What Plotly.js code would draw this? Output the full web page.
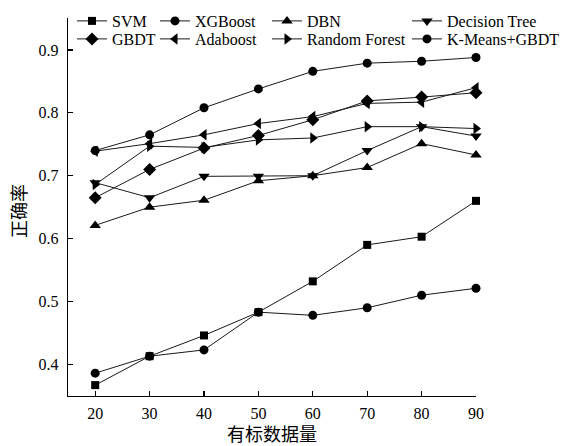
<!DOCTYPE html>
<html>
<head>
<meta charset="utf-8">
<script src="https://cdn.plot.ly/plotly-3.0.1.min.js"></script>
<style>html,body{margin:0;padding:0;background:#fff;}#chart{width:565px;height:446px;}</style>
</head>
<body>
<div id="chart"></div>
<script>
// Data
var xValues = [20, 30, 40, 50, 60, 70, 80, 90];
var seriesNames = ['SVM', 'XGBoost', 'DBN', 'Decision Tree', 'GBDT', 'Adaboost', 'Random Forest', 'K-Means+GBDT'];
var svm = [0.367, 0.413, 0.446, 0.483, 0.532, 0.590, 0.603, 0.660];
var xgboost = [0.386, 0.413, 0.423, 0.483, 0.478, 0.490, 0.510, 0.521];
var dbn = [0.621, 0.650, 0.661, 0.692, 0.700, 0.713, 0.751, 0.733];
var decisionTree = [0.689, 0.665, 0.699, 0.699, 0.700, 0.740, 0.778, 0.763];
var gbdt = [0.665, 0.710, 0.744, 0.764, 0.789, 0.819, 0.825, 0.832];
var adaboost = [0.739, 0.751, 0.765, 0.783, 0.794, 0.815, 0.817, 0.840];
var randomForest = [0.686, 0.747, 0.745, 0.757, 0.760, 0.778, 0.778, 0.775];
var kmeansGbdt = [0.740, 0.765, 0.808, 0.838, 0.866, 0.879, 0.882, 0.888];
var yTickVals = [0.4, 0.5, 0.6, 0.7, 0.8, 0.9];
var yTickText = ['0.4', '0.5', '0.6', '0.7', '0.8', '0.9'];
var xTitle = '有标数据量';
var yTitle = '正确率';

var allSeries = [svm, xgboost, dbn, decisionTree, gbdt, adaboost, randomForest, kmeansGbdt];
var symbols = ['square', 'circle', 'triangle-up', 'triangle-down', 'diamond', 'triangle-left', 'triangle-right', 'circle'];
var sizes = [8, 9, 10, 10, 10, 10, 10, 9];
// legend placement (pixels in container): text start x, row center y
var legTextX = [112, 195, 307, 447, 112, 195, 307, 447];
var legY = [21, 21, 21, 21, 39, 39, 39, 39];
var W = 565, H = 446;
var FONT = '"Liberation Serif", "Times New Roman", "Noto Sans CJK SC", serif';
var CJK = '"Noto Sans CJK SC", sans-serif';

var traces = [];
var layout = {
  width: W, height: H,
  margin: {l: 68, r: 89, t: 18, b: 50, pad: 0, autoexpand: false},
  paper_bgcolor: '#fff', plot_bgcolor: '#fff',
  font: {family: FONT, size: 16, color: '#000'},
  showlegend: true,
  xaxis: {
    range: [15, 90], tickvals: xValues, ticks: 'inside', ticklen: 5, tickwidth: 1.2, tickcolor: '#000',
    showline: true, linecolor: '#000', linewidth: 1.3, showgrid: false, zeroline: false, mirror: false,
    ticklabelstandoff: 2, automargin: false,
    tickfont: {family: FONT, size: 16, color: '#000'},
    title: {text: xTitle, font: {family: CJK, size: 18, color: '#000'}, standoff: 3}
  },
  yaxis: {
    range: [0.3497, 0.9508], tickvals: yTickVals, ticktext: yTickText,
    ticks: 'inside', ticklen: 5, tickwidth: 1.2, tickcolor: '#000',
    showline: true, linecolor: '#000', linewidth: 1.3, showgrid: false, zeroline: false, mirror: false,
    ticklabelstandoff: 5, automargin: false,
    tickfont: {family: FONT, size: 16, color: '#000'}
  },
  annotations: [{
    text: yTitle, xref: 'paper', yref: 'paper', x: (18 - 68) / 408, y: (396 - 211) / 378,
    xanchor: 'center', yanchor: 'middle', textangle: -90, showarrow: false,
    font: {family: CJK, size: 18, color: '#000'}
  }]
};

for (var i = 0; i < allSeries.length; i++) {
  var legName = i === 0 ? 'legend' : 'legend' + (i + 1);
  traces.push({
    x: xValues, y: allSeries[i], name: seriesNames[i], type: 'scatter', mode: 'lines+markers',
    cliponaxis: false,
    line: {color: '#1a1a1a', width: 1},
    marker: {symbol: symbols[i], size: sizes[i], color: '#000', line: {width: 0}},
    legend: legName
  });
  layout[legName] = {
    xref: 'container', yref: 'container',
    x: (legTextX[i] - 40) / W, y: 1 - legY[i] / H,
    xanchor: 'left', yanchor: 'middle',
    bgcolor: 'rgba(0,0,0,0)', borderwidth: 0,
    font: {family: FONT, size: 16, color: '#000'}
  };
}

Plotly.newPlot('chart', traces, layout, {displayModeBar: false, staticPlot: true});
</script>
</body>
</html>
